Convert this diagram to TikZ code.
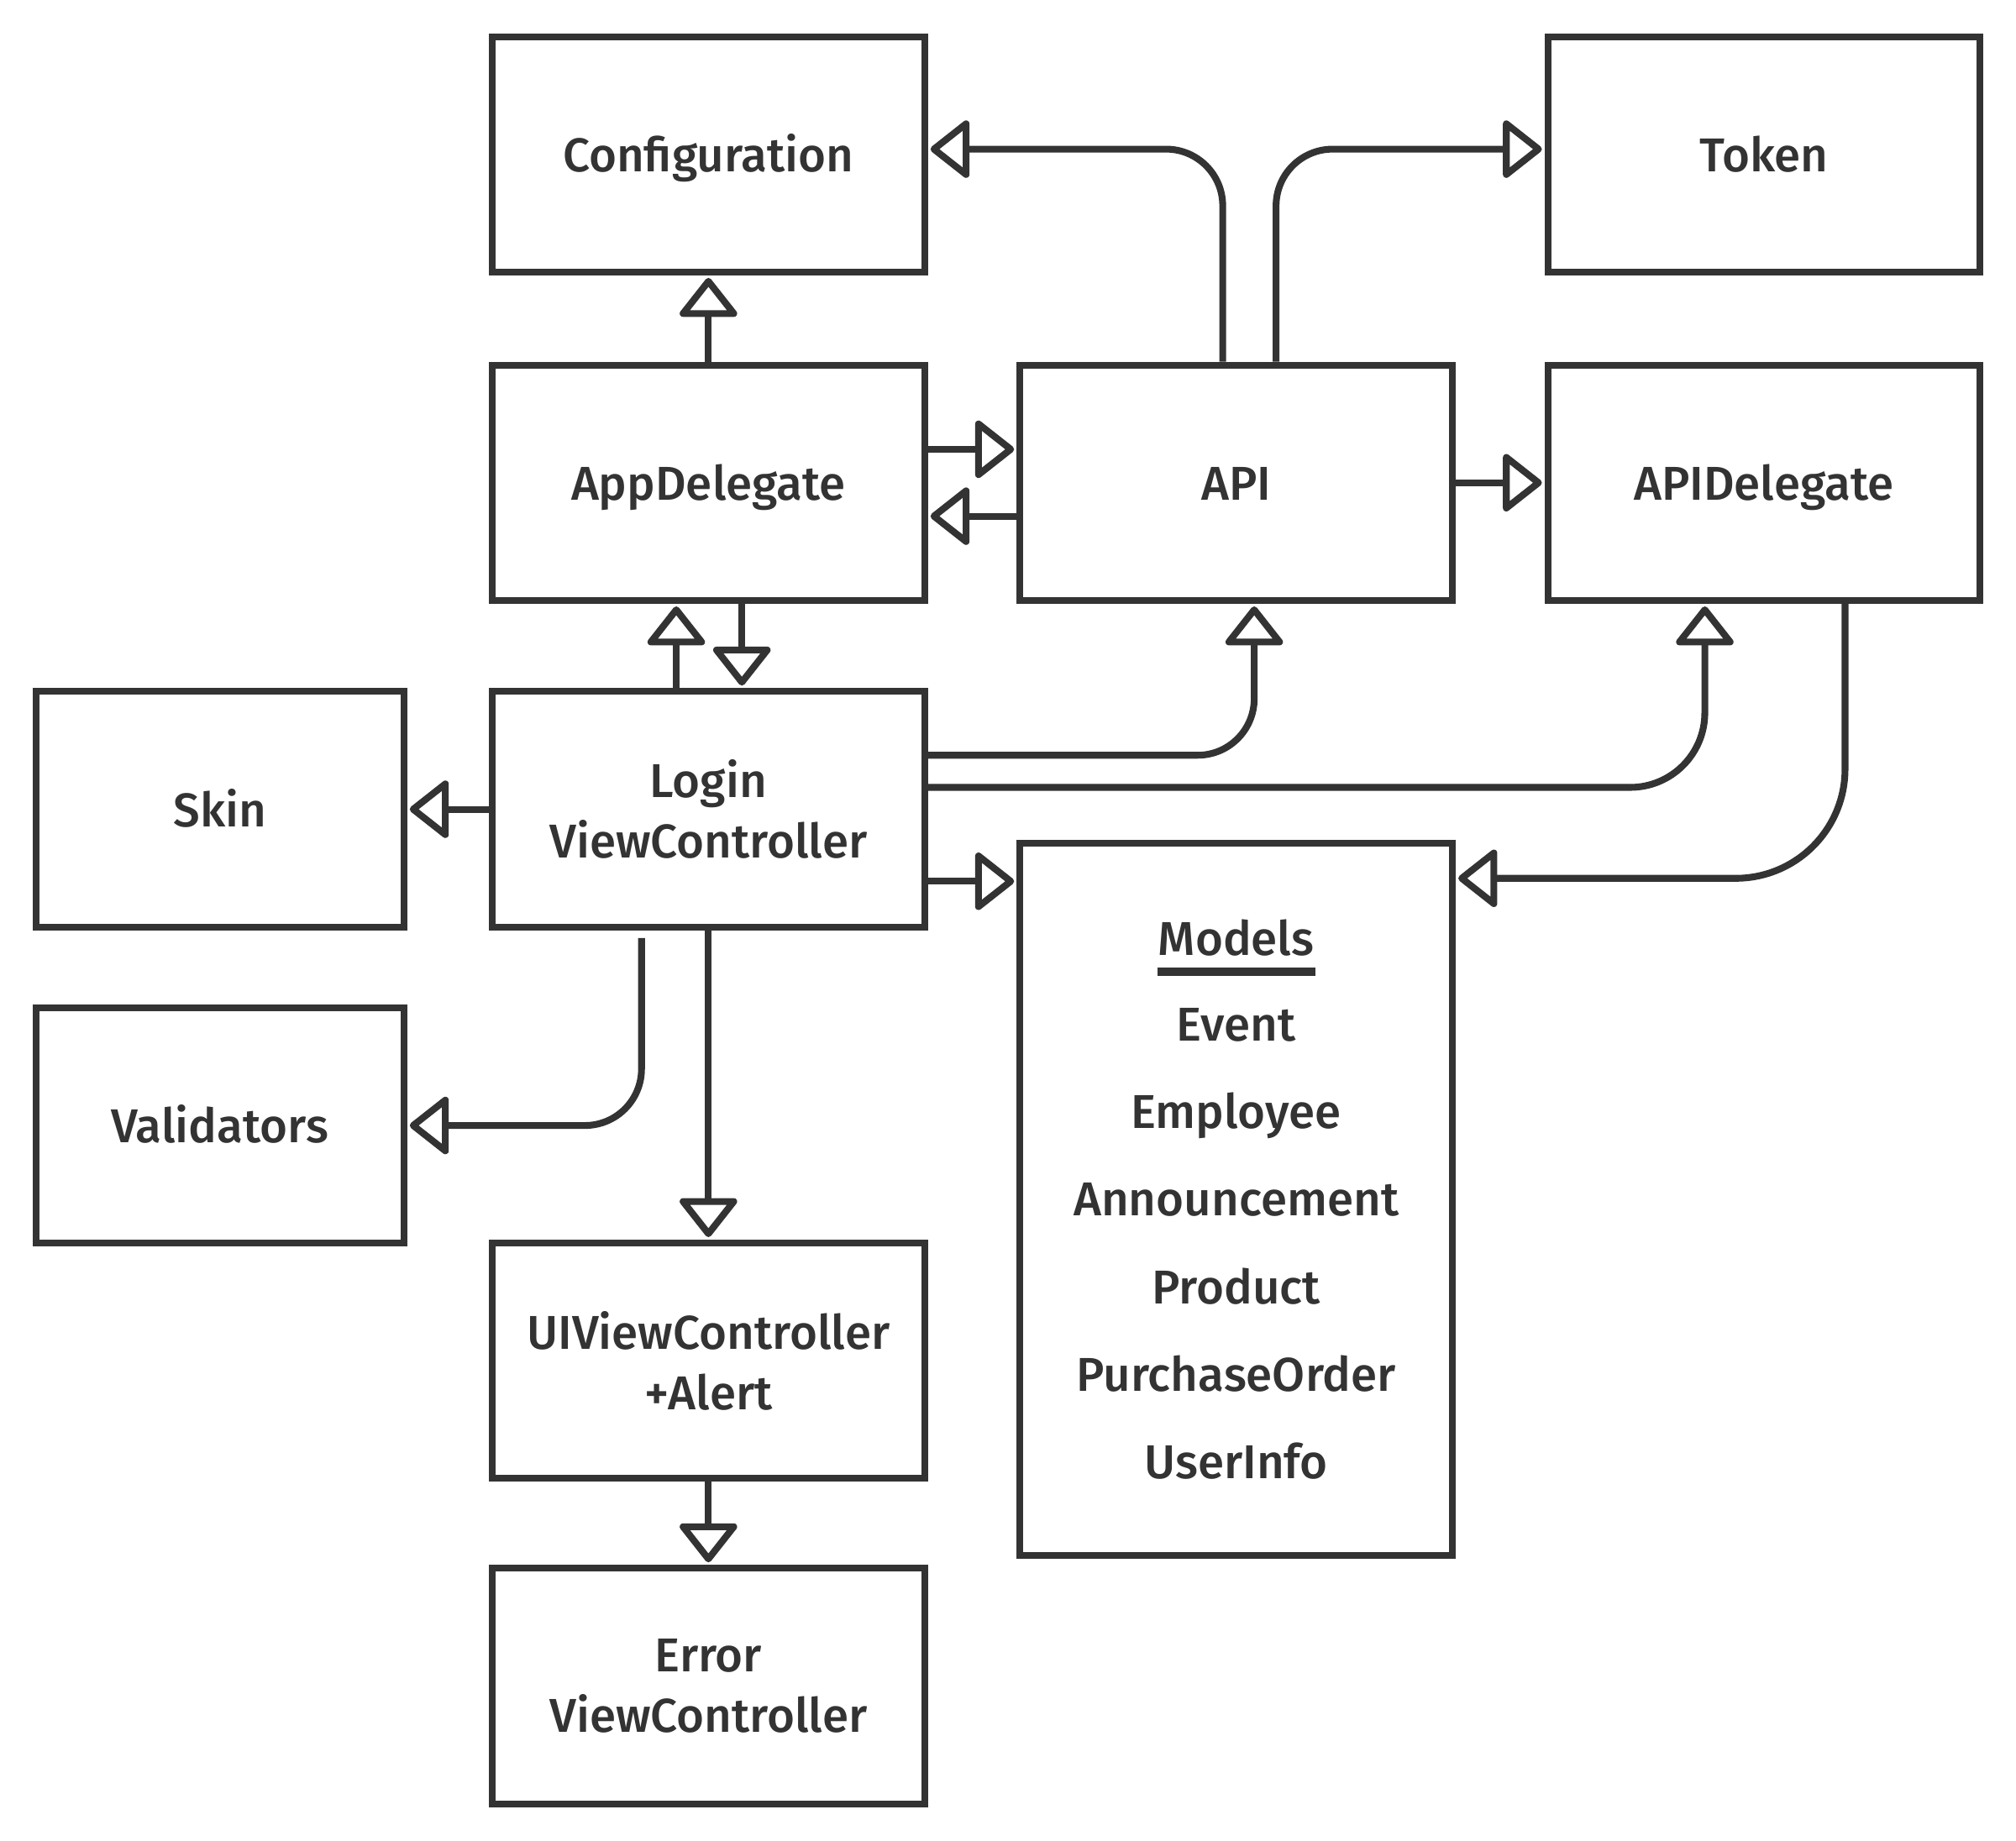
\documentclass[tikz,border=0pt]{standalone}
\usepackage{fontspec}
\setmainfont{Fira Sans}[UprightFont=* Medium]
\usetikzlibrary{arrows.meta,positioning}
\definecolor{ink}{HTML}{333333}
\tikzset{
  box/.style={draw=ink, line width=1.5pt, minimum width=3.36cm, minimum height=1.83cm,
    align=center, text=ink, font=\fontsize{10.5}{13.4}\selectfont},
  single/.style={text height=0.27cm, text depth=0pt},
  smallbox/.style={box, minimum width=2.86cm},
  entry/.style={text=ink, font=\fontsize{10.5}{13.4}\selectfont, anchor=base, inner sep=0pt},
  link/.style={draw=ink, line width=1.5pt, line join=round,
    -{Triangle[open, round, length=3.2mm, width=4.9mm]}, shorten >=0.02cm,
    rounded corners=0.44cm}
}
\begin{document}
\begin{tikzpicture}[x=0.01cm, y=-0.01cm]
  \useasboundingbox (0,0) rectangle (1568,1432);
  \node[box, single] (config) at (551,120) {Configuration};
  \node[box, single] (token) at (1372,120) {Token};
  \node[box, single] (appdel) at (551,375.5) {AppDelegate};
  \node[box, single] (api) at (961.5,375.5) {API};
  \node[box, single] (apidel) at (1372,375.5) {APIDelegate};
  \node[smallbox, single] (skin) at (171,629.5) {Skin};
  \node[box] (login) at (551,629.5) {Login\\ViewController};
  \node[smallbox, single] (valid) at (171,875.5) {Validators};
  \node[box, minimum height=5.54cm] (models) at (961.5,933) {};
  \node[box] (alert) at (551,1058.5) {UIViewController\\+Alert};
  \node[box] (errvc) at (551,1311.5) {Error\\ViewController};
  % model list
  \node[entry] (mtitle) at (961.5,743) {Models};
  \draw[ink, line width=1.8pt] ([yshift=-0.13cm]mtitle.base west) -- ([yshift=-0.13cm]mtitle.base east);
  \node[entry] (event) at (961.5,810) {Event};
  \node[entry] (employee) at (961.5,878) {Employee};
  \node[entry] (announce) at (961.5,946) {Announcement};
  \node[entry] (product) at (961.5,1014) {Product};
  \node[entry] (porder) at (961.5,1082) {PurchaseOrder};
  \node[entry] (userinfo) at (961.5,1150) {UserInfo};
  % connectors
  \draw[link] (appdel) -- (config);
  \draw[link] ([xshift=-0.105cm]api.north) |- ([yshift=0.04cm]config.east);
  \draw[link] ([xshift=0.31cm]api.north) |- ([yshift=0.04cm]token.west);
  \draw[link] ([yshift=0.26cm]appdel.east) -- ([yshift=0.26cm]api.west);
  \draw[link] ([yshift=-0.26cm]api.west) -- ([yshift=-0.26cm]appdel.east);
  \draw[link] (api) -- (apidel);
  \draw[link] ([xshift=-0.25cm]login.north) -- ([xshift=-0.25cm]appdel.south);
  \draw[link] ([xshift=0.26cm]appdel.south) -- ([xshift=0.26cm]login.north);
  \draw[link] ([yshift=0.42cm]login.east) -| ([xshift=0.14cm]api.south);
  \draw[link, rounded corners=0.58cm] ([yshift=0.17cm]login.east) -| ([xshift=-0.46cm]apidel.south);
  \draw[link, rounded corners=0.85cm] ([xshift=0.63cm]apidel.south) |- ([yshift=-0.3cm]models.north east);
  \draw[link] (login) -- (skin);
  \draw[link] ([yshift=-0.56cm]login.east) -- ([yshift=-0.56cm]login.east -| models.west);
  \draw[link] ([xshift=-0.52cm, yshift=-0.06cm]login.south) |- (valid.east);
  \draw[link] (login) -- (alert);
  \draw[link] (alert) -- (errvc);
\end{tikzpicture}
\end{document}
